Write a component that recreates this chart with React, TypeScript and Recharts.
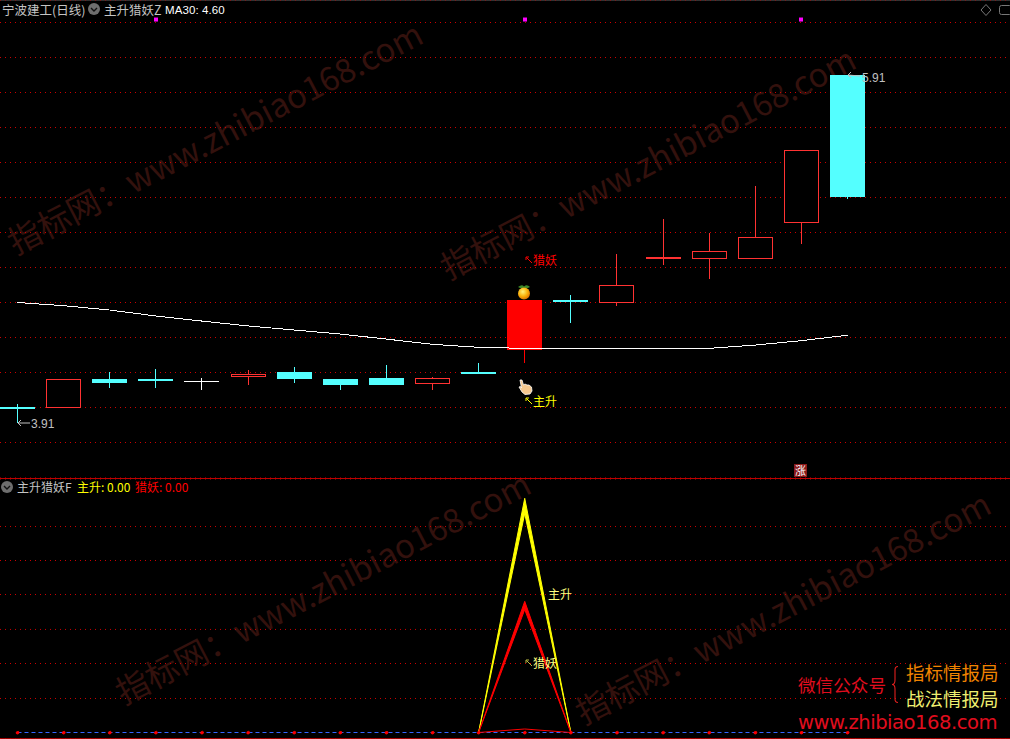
import React from "react";
import { Area, Bar, CartesianGrid, ComposedChart, Line, XAxis, YAxis } from "recharts";

const opens = [4.013, 4.009, 4.173, 4.173, 4.161, 4.186, 4.213, 4.173, 4.179, 4.144, 4.213, 4.34, 4.624, 4.609, 4.859, 4.86, 4.86, 5.063, 5.91];
const closes = [4.002, 4.171, 4.15, 4.161, 4.156, 4.201, 4.173, 4.139, 4.139, 4.179, 4.201, 4.624, 4.613, 4.71, 4.872, 4.903, 4.983, 5.48, 5.213];
const highs = [4.03, 4.171, 4.213, 4.23, 4.179, 4.224, 4.241, 4.173, 4.253, 4.184, 4.264, 4.624, 4.653, 4.887, 5.087, 5.007, 5.276, 5.48, 5.91];
const lows = [3.92, 4.009, 4.121, 4.121, 4.11, 4.139, 4.15, 4.11, 4.139, 4.11, 4.201, 4.264, 4.493, 4.592, 4.824, 4.746, 4.86, 4.946, 5.201];
const ma30 = [4.61, 4.592, 4.567, 4.533, 4.504, 4.476, 4.453, 4.43, 4.401, 4.371, 4.354, 4.348, 4.348, 4.348, 4.348, 4.348, 4.367, 4.392, 4.423];
const flags = [null, null, null, 6.227, null, null, null, null, null, null, null, 6.227, null, null, null, null, null, 6.227, null];
const limitUpDays = [11];
const flatDays = [4];

// the two signal lines taper towards the base, so each is a band between two peaks
const zhuSheng = [null, null, null, null, null, null, null, null, null, null, 0, 100, 0, null, null, null, null, null, null];
const zhuShengInner = [null, null, null, null, null, null, null, null, null, null, 0, 93.5, 0, null, null, null, null, null, null];
const lieYao = [null, null, null, null, null, null, null, null, null, null, 0, 56, 0, null, null, null, null, null, null];
const lieYaoInner = [null, null, null, null, null, null, null, null, null, null, 0, 52.5, 0, null, null, null, null, null, null];
const baseHump = [null, null, null, null, null, null, null, null, null, null, 0, 1.5, 0, null, null, null, null, null, null];
const zero = [0, 0, 0, 0, 0, 0, 0, 0, 0, 0, 0, 0, 0, 0, 0, 0, 0, 0, 0];

const priceGrid = [6.21, 6.01, 5.81, 5.61, 5.41, 5.21, 5.01, 4.81, 4.61, 4.41, 4.21, 4.01, 3.81];
const signalGrid = [87.96, 73.44, 58.92, 44.0, 29.46, 14.52];

const priceData = opens.map((open, i) => ({
  x: i,
  open,
  close: closes[i],
  high: highs[i],
  low: lows[i],
  ma: ma30[i],
  flag: flags[i],
}));
const signalData = zero.map((z, i) => ({
  x: i,
  zero: z,
  zhu: zhuSheng[i] == null ? null : [zhuShengInner[i], zhuSheng[i]],
  lie: lieYao[i] == null ? null : [lieYaoInner[i], lieYao[i]],
  hump: baseHump[i],
}));

const xTicks = opens.map((_, i) => i);
const xDomain = [-0.3795, 21.524];
const CYAN = "#54ffff";
const HOLLOW = "#ff3232";
const GRID = "#cc0000";
const MARK = "#33110d";
const CJK = '"Noto Sans CJK SC", "Noto Sans", sans-serif';

function Candle(props: any) {
  const { x, width, y, height, payload } = props;
  const { open, close, high, low } = payload;
  const top = Math.min(y, y + height);
  const h = Math.abs(height);
  const perUnit = h / (high - low);
  const yOf = (v: number) => top + (high - v) * perUnit;
  const left = Math.floor(x + width / 2 - 17.5);
  const cx = left + 17.5;
  const yTop = Math.round(yOf(Math.max(open, close)));
  const yBot = Math.round(yOf(Math.min(open, close)));
  const flat = flatDays.includes(payload.x);
  const limit = limitUpDays.includes(payload.x);
  const up = close > open;
  const color = flat ? "#ffffff" : limit ? "#ff0000" : up ? HOLLOW : CYAN;
  return (
    <g shapeRendering="crispEdges">
      <line x1={cx} x2={cx} y1={top} y2={yTop} stroke={color} />
      <line x1={cx} x2={cx} y1={yBot} y2={top + h} stroke={color} />
      {up && !limit ? (
        <rect x={left + 0.5} y={yTop + 0.5} width={34} height={Math.max(yBot - yTop - 1, 1)} fill="#000" stroke={color} />
      ) : (
        <rect x={left} y={yTop} width={35} height={Math.max(yBot - yTop, 1)} fill={color} />
      )}
    </g>
  );
}

function FlagDot(props: any) {
  const { cx, cy, payload, index } = props;
  if (payload.flag == null) return <g key={index} />;
  return <rect key={index} x={Math.round(cx) - 2} y={cy - 2} width={4} height={4} fill="#ff00ff" />;
}

function Txt({ x, y, size = 12.5, color, font = CJK, spacing, children }: any) {
  return (
    <div
      style={{
        position: "absolute",
        left: x,
        top: y,
        fontFamily: font,
        fontSize: size,
        lineHeight: `${Math.round(size) + 2}px`,
        color,
        letterSpacing: spacing,
        whiteSpace: "nowrap",
      }}
    >
      {children}
    </div>
  );
}

function Watermark({ x, y }: { x: number; y: number }) {
  return (
    <div
      style={{
        position: "absolute",
        left: x,
        top: y,
        fontFamily: CJK,
        fontSize: 33,
        lineHeight: "38px",
        color: MARK,
        whiteSpace: "nowrap",
        transform: "rotate(-27.5deg)",
        transformOrigin: "0 100%",
      }}
    >
      指标网：www.zhibiao168.com
    </div>
  );
}

function Chevron({ x, y }: { x: number; y: number }) {
  return (
    <svg style={{ position: "absolute", left: x, top: y }} width={12} height={12}>
      <circle cx={6} cy={6} r={6} fill="#6e6e6e" />
      <path d="M3 5 L6 8 L9 5" stroke="#111" strokeWidth={1.4} fill="none" />
    </svg>
  );
}

function NorthWest({ x, y, color }: { x: number; y: number; color: string }) {
  return (
    <svg style={{ position: "absolute", left: x, top: y }} width={8} height={8}>
      <path d="M7 7 L1.5 1.5 M1 4 L1 1 L4 1" stroke={color} strokeWidth={1} fill="none" />
    </svg>
  );
}

export default function App() {
  return (
    <div style={{ position: "absolute", left: 0, top: 0, width: 1010, height: 739, background: "#000", overflow: "hidden" }}>
      <Watermark x={18} y={222} />
      <Watermark x={451} y={247} />
      <Watermark x={126} y={672} />
      <Watermark x={586} y={692} />

      <div style={{ position: "absolute", left: 0, top: 0, width: 1010, height: 1, background: "#333" }} />

      <div style={{ position: "absolute", left: 0, top: 0 }}>
        <ComposedChart width={1010} height={478} data={priceData} margin={{ top: 0, right: 0, bottom: 0, left: 0 }}>
          <CartesianGrid vertical={false} stroke={GRID} strokeDasharray="1 4" />
          <XAxis dataKey="x" type="number" domain={xDomain} ticks={xTicks} hide allowDataOverflow />
          <YAxis type="number" domain={[3.6072, 6.3386]} ticks={priceGrid} hide allowDataOverflow />
          <Line dataKey="ma" stroke="#ffffff" strokeWidth={1} shapeRendering="crispEdges" dot={false} activeDot={false} isAnimationActive={false} />
          <Bar dataKey={(d: any) => [d.low, d.high]} barSize={35} shape={<Candle />} activeBar={false} isAnimationActive={false} />
          <Line dataKey="flag" stroke="none" dot={<FlagDot />} activeDot={false} connectNulls={false} isAnimationActive={false} />
        </ComposedChart>
      </div>

      <div style={{ position: "absolute", left: 0, top: 478, width: 1010, height: 1, background: "#c00000" }} />
      <div style={{ position: "absolute", left: 0, top: 738, width: 1010, height: 1, background: "#a00000" }} />

      <div style={{ position: "absolute", left: 0, top: 479 }}>
        <ComposedChart width={1010} height={260} data={signalData} margin={{ top: 0, right: 0, bottom: 0, left: 0 }}>
          <CartesianGrid vertical={false} stroke={GRID} strokeDasharray="1 4" />
          <XAxis dataKey="x" type="number" domain={xDomain} ticks={xTicks} hide allowDataOverflow />
          <YAxis type="number" domain={[-2.7754, 108.24]} ticks={signalGrid} hide allowDataOverflow />
          <Area dataKey="zhu" fill="#ffff00" fillOpacity={1} stroke="#ffff00" strokeWidth={1} dot={false} activeDot={false} isAnimationActive={false} />
          <Area dataKey="lie" fill="#ff0000" fillOpacity={1} stroke="#ff0000" strokeWidth={1} dot={false} activeDot={false} isAnimationActive={false} />
          <Line
            dataKey="zero"
            stroke="#3366ff"
            strokeWidth={1}
            strokeDasharray="4 3"
            dot={{ r: 1.5, fill: "#ff0000", stroke: "#ff0000" }}
            activeDot={false}
            isAnimationActive={false}
          />
          <Line dataKey="hump" stroke="#ff0000" strokeWidth={1} dot={false} activeDot={false} isAnimationActive={false} />
        </ComposedChart>
      </div>

      {/* panel captions */}
      <Txt x={2} y={2} color="#c4c4c4">宁波建工(日线)</Txt>
      <Chevron x={88} y={3} />
      <Txt x={104} y={2} color="#c4c4c4">主升猎妖Z</Txt>
      <Txt x={165} y={3} size={11.5} color="#ffffff" font="Liberation Sans" spacing={0.1}>MA30: 4.60</Txt>
      <Chevron x={1} y={481} />
      <Txt x={17} y={480} size={12} color="#c4c4c4">主升猎妖F</Txt>
      <Txt x={77} y={480} size={12} color="#ffff00">主升: 0.00</Txt>
      <Txt x={135} y={480} size={12} color="#ff0000">猎妖: 0.00</Txt>

      {/* annotations */}
      <NorthWest x={525} y={256} color="#ff0000" />
      <Txt x={533} y={253} size={12} color="#ff0000">猎妖</Txt>
      <NorthWest x={525} y={397} color="#ffff00" />
      <Txt x={533} y={394} size={12} color="#ffff00">主升</Txt>
      <svg style={{ position: "absolute", left: 16, top: 419 }} width={16} height={8}>
        <path d="M14 4 L2 4 M5 1 L2 4 L5 7" stroke="#c0c0c0" strokeWidth={1} fill="none" />
      </svg>
      <Txt x={31} y={417} size={12} color="#c0c0c0" font="Liberation Sans">3.91</Txt>
      <svg style={{ position: "absolute", left: 846, top: 71 }} width={16} height={8}>
        <path d="M14 5 L2 4 M5 1 L2 4 L5 7" stroke="#c0c0c0" strokeWidth={1} fill="none" />
      </svg>
      <Txt x={862} y={71} size={12} color="#c0c0c0" font="Liberation Sans">5.91</Txt>
      <Txt x={548} y={587} size={12} color="#ffff80">主升</Txt>
      <NorthWest x={525} y={659} color="#b8b840" />
      <Txt x={533} y={656} size={12} color="#ffff80">猎妖</Txt>

      {/* orange and hand signal icons */}
      <svg style={{ position: "absolute", left: 516, top: 283 }} width={16} height={17}>
        <defs>
          <radialGradient id="fruit" cx="0.4" cy="0.35" r="0.7">
            <stop offset="0" stopColor="#fff27a" />
            <stop offset="0.55" stopColor="#fbb10a" />
            <stop offset="1" stopColor="#d96a00" />
          </radialGradient>
        </defs>
        <path d="M2 4 Q6 1 8 3.5 Q11 1 14 4 Q10 6.5 8 4.5 Q6 6.5 2 4Z" fill="#3d8a2a" />
        <circle cx={8} cy={10.5} r={6} fill="url(#fruit)" />
      </svg>
      <svg style={{ position: "absolute", left: 518, top: 379 }} width={15} height={16}>
        <path
          d="M2 1 L4 1 L5.5 6 L7 5 L9 6 L11 6 L13.5 8 L14 12 L12 15 L7 15.5 L4 13 L1 8 L2.5 7.5 L3.5 9Z"
          fill="#f6c88e"
          stroke="#fff"
          strokeWidth={0.8}
        />
      </svg>
      <svg style={{ position: "absolute", left: 980, top: 4 }} width={30} height={12}>
        <path d="M6 0.5 L11 6 L6 11.5 L1 6Z" fill="none" stroke="#777" />
        <rect x={19.5} y={1.5} width={12} height={9} rx={2} fill="none" stroke="#777" />
      </svg>
      <div
        style={{
          position: "absolute",
          left: 794,
          top: 464,
          width: 13,
          height: 13,
          background: "#8a1a1a",
          color: "#fff",
          fontFamily: CJK,
          fontSize: 11,
          lineHeight: "13px",
          textAlign: "center",
        }}
      >
        涨
      </div>

      {/* brand block */}
      <Txt x={798} y={675} size={17.6} color="#e00d1e">微信公众号</Txt>
      <svg style={{ position: "absolute", left: 890, top: 665 }} width={10} height={39}>
        <path d="M8 1.5 Q5 1.5 5 5 L5 15 Q5 19.5 2 19.5 Q5 19.5 5 24 L5 34 Q5 37.5 8 37.5" fill="none" stroke="#e0201e" strokeWidth={1.1} />
      </svg>
      <Txt x={906} y={662} size={18.5} color="#f08300">指标情报局</Txt>
      <Txt x={906} y={688} size={18.5} color="#eeee70">战法情报局</Txt>
      <Txt x={798} y={712} size={19.6} color="#e00d1e" font="DejaVu Sans" spacing={-0.5}>www.zhibiao168.com</Txt>
    </div>
  );
}
